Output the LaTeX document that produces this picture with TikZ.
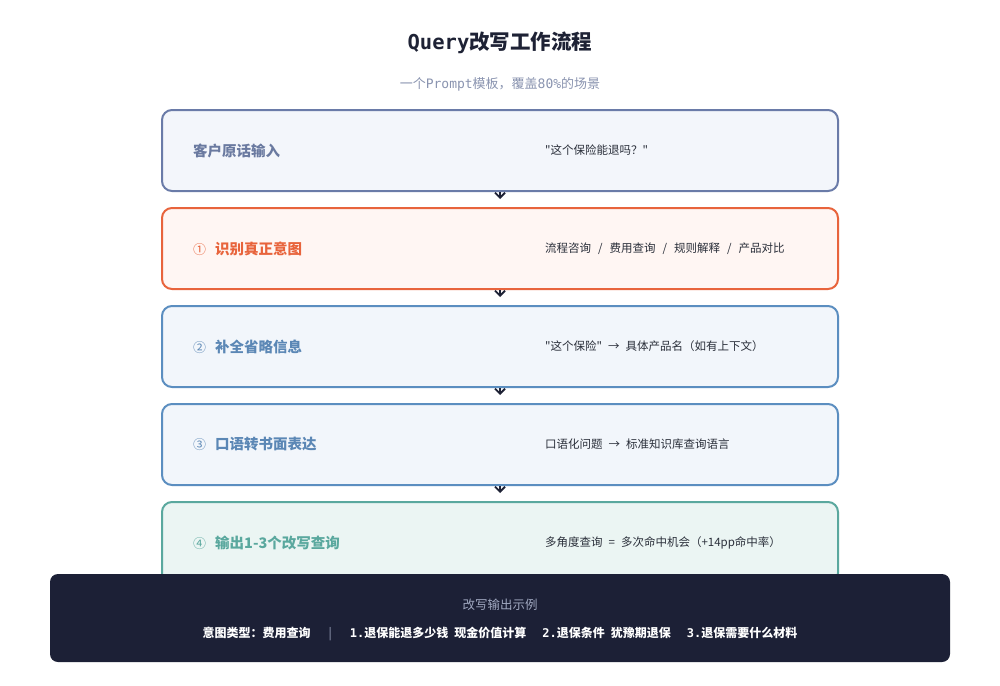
\documentclass[tikz,border=0pt]{standalone}
\usepackage{fontspec}
\setmainfont{Noto Sans CJK SC}
\newfontfamily\monofont{DejaVu Sans Mono}
\newfontfamily\plainfont{Noto Sans CJK SC}
\usepackage{tikz}
\usetikzlibrary{positioning, arrows.meta}
\definecolor{inkdark}{HTML}{1E2235}
\definecolor{navybg}{HTML}{1C2036}
\definecolor{slateline}{HTML}{6A7BA8}
\definecolor{slatetext}{HTML}{6A7AA0}
\definecolor{slatefill}{HTML}{F3F6FB}
\definecolor{orangeline}{HTML}{E8643C}
\definecolor{orangefill}{HTML}{FFF6F3}
\definecolor{blueline}{HTML}{5B8EC0}
\definecolor{bluetext}{HTML}{5B87B5}
\definecolor{bluefill}{HTML}{F2F6FB}
\definecolor{tealline}{HTML}{5AA89E}
\definecolor{tealfill}{HTML}{EBF5F3}
\definecolor{bodytext}{HTML}{2A2F3A}
\definecolor{subtext}{HTML}{8A94B0}
\definecolor{greytext}{HTML}{A0A8C0}
\newcommand{\qt}{{\plainfont"}}
\newcommand{\stepno}[1]{{\fontsize{13}{15}\selectfont\mdseries #1}\hspace{9pt}}
\tikzstyle{stepbox}   = [rectangle, rounded corners=10pt, minimum width=676pt, minimum height=81pt, line width=2pt]
\tikzstyle{steplabel} = [anchor=west, font=\fontsize{14.5}{17}\selectfont\bfseries, inner sep=0pt]
\tikzstyle{stepnote}  = [anchor=west, font=\fontsize{11.5}{14}\selectfont, text=bodytext, inner sep=0pt]
\tikzstyle{flow}      = [-{Straight Barb[length=5pt, width=10pt, line width=1.8pt]}, line width=1.8pt, draw=inkdark, shorten >=8pt]

\begin{document}
\begin{tikzpicture}[x=1pt, y=-1pt]
            \useasboundingbox[fill=white] (0,0) rectangle (1000,685);
            % title
            \node[text=inkdark] (title) at (500,43) {\fontsize{20.5}{24}\selectfont\bfseries{\monofont Query}改写工作流程};
            \node[text=subtext] (subtitle) at (500,84) {\fontsize{13}{15}\selectfont 一个{\monofont Prompt}模板，覆盖{\monofont 80\%}的场景};

            % steps
            \node[stepbox, draw=slateline, fill=slatefill] (input) at (500,150.5) {};
            \node[stepbox, draw=orangeline, fill=orangefill] (intent) [below=15pt of input] {};
            \node[stepbox, draw=blueline, fill=bluefill] (fill) [below=15pt of intent] {};
            \node[stepbox, draw=blueline, fill=bluefill] (formal) [below=15pt of fill] {};
            \node[stepbox, draw=tealline, fill=tealfill] (output) [below=15pt of formal] {};

            \node[steplabel, text=slatetext] (inputlbl) at ([xshift=32pt]input.west) {客户原话输入};
            \node[steplabel, text=orangeline] (intentlbl) at ([xshift=32pt]intent.west) {\stepno{①}识别真正意图};
            \node[steplabel, text=bluetext] (filllbl) at ([xshift=32pt]fill.west) {\stepno{②}补全省略信息};
            \node[steplabel, text=bluetext] (formallbl) at ([xshift=32pt]formal.west) {\stepno{③}口语转书面表达};
            \node[steplabel, text=tealline] (outputlbl) at ([xshift=32pt]output.west) {\stepno{④}输出1-3个改写查询};

            \node[stepnote] (inputnote) at ([xshift=384pt]input.west) {\qt 这个保险能退吗？\qt};
            \node[stepnote] (intentnote) at ([xshift=384pt]intent.west) {流程咨询\hspace{7pt}/\hspace{7pt}费用查询\hspace{7pt}/\hspace{7pt}规则解释\hspace{7pt}/\hspace{7pt}产品对比};
            \node[stepnote] (fillnote) at ([xshift=384pt]fill.west) {\qt 这个保险\qt\hspace{6pt}→\hspace{6pt}具体产品名（如有上下文）};
            \node[stepnote] (formalnote) at ([xshift=384pt]formal.west) {口语化问题\hspace{6pt}→\hspace{6pt}标准知识库查询语言};
            \node[stepnote] (outputnote) at ([xshift=384pt]output.west) {多角度查询\hspace{6pt}=\hspace{6pt}多次命中机会（+14pp命中率）};

            \draw[flow] (input.south) -- (intent.north);
            \draw[flow] (intent.south) -- (fill.north);
            \draw[flow] (fill.south) -- (formal.north);
            \draw[flow] (formal.south) -- (output.north);

            % example panel
            \node[rectangle, rounded corners=8pt, fill=navybg, minimum width=900pt, minimum height=88pt] (example) at (500,618) {};
            \node[text=greytext, font=\fontsize{12.5}{15}\selectfont] (exampletitle) at (500,605) {改写输出示例};
            \node[text=white, font=\fontsize{12}{15}\selectfont\bfseries] (examplebody) at (500,634)
                {意图类型：费用查询\hspace{18pt}{\color{greytext}\mdseries|}\hspace{18pt}{\monofont 1.}退保能退多少钱\hspace{6pt}现金价值计算\hspace{16pt}{\monofont 2.}退保条件\hspace{6pt}犹豫期退保\hspace{16pt}{\monofont 3.}退保需要什么材料};
        \end{tikzpicture}
\end{document}
